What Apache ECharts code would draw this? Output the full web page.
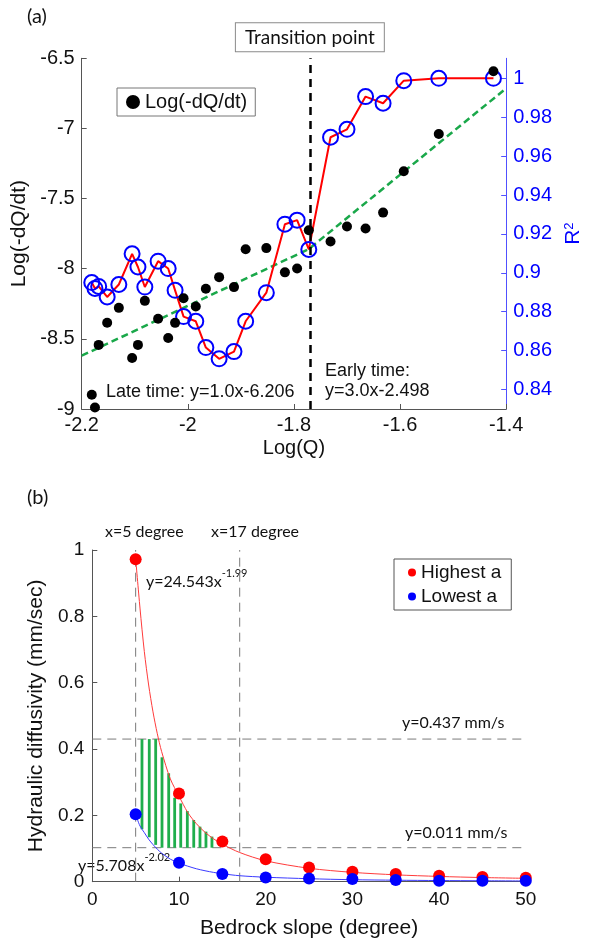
<!DOCTYPE html>
<html>
<head>
<meta charset="utf-8">
<script src="https://cdn.jsdelivr.net/npm/echarts@6/dist/echarts.min.js"></script>
<style>
html,body{margin:0;padding:0;background:#fff;}
#chart{width:592px;height:943px;}
</style>
</head>
<body>
<div id="chart"></div>
<script>
// ---------- Panel (a) data ----------
const logQ = [-2.181, -2.175, -2.168, -2.152, -2.130, -2.105, -2.094, -2.081, -2.056, -2.037, -2.024, -2.008, -1.985, -1.966, -1.941, -1.913, -1.891, -1.852, -1.817, -1.794, -1.772, -1.731, -1.700, -1.665, -1.632, -1.593, -1.527, -1.424];
const logDQdt = [-8.898, -8.989, -8.543, -8.385, -8.279, -8.637, -8.543, -8.229, -8.357, -8.494, -8.386, -8.210, -8.269, -8.143, -8.060, -8.131, -7.861, -7.853, -8.026, -7.998, -7.726, -7.806, -7.699, -7.713, -7.600, -7.305, -7.039, -6.592];
const r2 = [0.895, 0.892, 0.893, 0.8876, 0.894, 0.9098, 0.903, 0.8927, 0.906, 0.9022, 0.891, 0.8775, 0.8751, 0.8616, 0.8558, 0.8595, 0.8751, 0.8898, 0.925, 0.9271, 0.912, 0.9697, 0.9738, 0.9906, 0.9872, 0.9988, 1.0, 1.0];
const fitX = [-2.2, -1.772, -1.4];
const fitY = [-8.62, -7.86, -6.714];
const transitionX = -1.772;
const r2Ticks = [0.84, 0.86, 0.88, 0.9, 0.92, 0.94, 0.96, 0.98, 1.0];

// ---------- Panel (b) data ----------
const slope = [5, 10, 15, 20, 25, 30, 35, 40, 45, 50];
const highestA = [0.972, 0.266, 0.121, 0.068, 0.043, 0.030, 0.023, 0.018, 0.014, 0.012];
const lowestA = [0.203, 0.057, 0.023, 0.013, 0.010, 0.008, 0.005, 0.003, 0.003, 0.003];
const curveX = [5, 5.5, 6, 6.5, 7, 7.5, 8, 9, 10, 11, 12, 13, 14, 15, 17, 20, 25, 30, 35, 40, 45, 50];
const highCurve = [0.975, 0.825, 0.694, 0.593, 0.512, 0.446, 0.392, 0.310, 0.258, 0.209, 0.175, 0.149, 0.129, 0.113, 0.088, 0.063, 0.0405, 0.0282, 0.0207, 0.0159, 0.0125, 0.0102];
const lowCurve = [0.203, 0.168, 0.148, 0.128, 0.112, 0.098, 0.086, 0.068, 0.056, 0.047, 0.039, 0.033, 0.028, 0.024, 0.018, 0.0135, 0.009, 0.006, 0.0045, 0.0035, 0.0029, 0.0022];
const hatchX = [5.73, 6.57, 7.31, 8.04, 8.81, 9.5, 10.2, 10.96, 11.7, 12.42, 13.11, 13.8];
const hatchTop = [0.43, 0.43, 0.43, 0.375, 0.327, 0.253, 0.236, 0.213, 0.186, 0.166, 0.151, 0.136];
const hatchBottom = [0.158, 0.134, 0.111, 0.1025, 0.1025, 0.1025, 0.1025, 0.1025, 0.1025, 0.1025, 0.1025, 0.1025];
const refX = [5, 17];
const refY = [0.43, 0.1025];

const SANS = 'Liberation Sans, Arial, Helvetica, sans-serif';
const CAL = 'Lato, Open Sans, sans-serif';
const AX = '#555';

const chart = echarts.init(document.getElementById('chart'), null, {renderer: 'canvas'});

const zip = (a, b) => a.map((v, i) => [v, b[i]]);

const refSeries = [];
refX.forEach(x => refSeries.push({
  type: 'line', xAxisIndex: 1, yAxisIndex: 2, data: [[x, 0], [x, 1]], symbol: 'none', silent: true, z: 1,
  lineStyle: {color: '#7a7a7a', width: 1, type: [9, 6]}
}));
refY.forEach(y => refSeries.push({
  type: 'line', xAxisIndex: 1, yAxisIndex: 2, data: [[0, y], [50, y]], symbol: 'none', silent: true, z: 1,
  lineStyle: {color: '#7a7a7a', width: 1, type: [9, 6]}
}));

const option = {
  animation: false,
  backgroundColor: '#fff',
  textStyle: {fontFamily: SANS},
  grid: [
    {left: 81.7, top: 58.3, width: 427.5, height: 350.7, containLabel: false},
    {left: 92.3, top: 550, width: 433.5, height: 331.7, containLabel: false}
  ],
  legend: [
    {
      data: ['Log(-dQ/dt)'], left: 117, top: 88, orient: 'horizontal',
      icon: 'circle', itemWidth: 14, itemHeight: 14, itemGap: 6,
      padding: [4, 8, 4, 9], borderColor: '#777', borderWidth: 1, backgroundColor: '#fff',
      textStyle: {fontSize: 20, color: '#111', fontFamily: SANS}
    },
    {
      data: ['Highest a', 'Lowest a'], left: 394, top: 559, orient: 'vertical',
      icon: 'circle', itemWidth: 8, itemHeight: 8, itemGap: 5,
      padding: [4, 10, 4, 14], borderColor: '#555', borderWidth: 1, backgroundColor: '#fff',
      textStyle: {fontSize: 19, color: '#111', fontFamily: SANS}
    }
  ],
  xAxis: [
    {
      type: 'value', gridIndex: 0, min: -2.2, max: -1.4, interval: 0.2,
      name: 'Log(Q)', nameLocation: 'middle', nameGap: 29,
      nameTextStyle: {fontSize: 20, color: '#111', fontFamily: SANS},
      axisLine: {show: true, onZero: false, lineStyle: {color: AX, width: 1}},
      axisTick: {show: true, inside: true, length: 5, lineStyle: {color: AX}},
      axisLabel: {fontSize: 20, color: '#111', margin: 6, fontFamily: SANS},
      splitLine: {show: false}
    },
    {
      type: 'value', gridIndex: 1, min: 0, max: 50, interval: 10,
      name: 'Bedrock slope (degree)', nameLocation: 'middle', nameGap: 36,
      nameTextStyle: {fontSize: 21, color: '#111', fontFamily: SANS},
      axisLine: {show: true, onZero: false, lineStyle: {color: AX, width: 1}},
      axisTick: {show: true, inside: true, length: 5, lineStyle: {color: AX}},
      axisLabel: {fontSize: 19, color: '#111', margin: 9, fontFamily: SANS},
      splitLine: {show: false}
    }
  ],
  yAxis: [
    {
      type: 'value', gridIndex: 0, min: -9, max: -6.5, interval: 0.5,
      name: 'Log(-dQ/dt)', nameLocation: 'middle', nameRotate: 90, nameGap: 43,
      nameTextStyle: {fontSize: 21, color: '#111', fontFamily: SANS},
      axisLine: {show: true, onZero: false, lineStyle: {color: AX, width: 1}},
      axisTick: {show: true, inside: true, length: 5, lineStyle: {color: AX}},
      axisLabel: {fontSize: 20, color: '#111', margin: 7, fontFamily: SANS},
      splitLine: {show: false}
    },
    {
      type: 'value', gridIndex: 0, position: 'right', min: 0.83, max: 1.0103,
      name: '{r|R}{s|2}', nameLocation: 'middle', nameRotate: 90, nameGap: 54,
      nameTextStyle: {color: '#0000ff', fontFamily: SANS, rich: {
        r: {fontSize: 21, color: '#0000ff', fontFamily: SANS},
        s: {fontSize: 13, color: '#0000ff', fontFamily: SANS, verticalAlign: 'top'}
      }},
      axisLine: {show: true, onZero: false, lineStyle: {color: '#5050ff', width: 1}},
      axisTick: {show: true, inside: true, length: 5, customValues: r2Ticks, lineStyle: {color: '#5050ff'}},
      axisLabel: {fontSize: 20, color: '#0000ff', margin: 7, fontFamily: SANS, customValues: r2Ticks,
        formatter: v => String(+(+v).toFixed(2))},
      splitLine: {show: false}
    },
    {
      type: 'value', gridIndex: 1, min: 0, max: 1, interval: 0.2,
      name: 'Hydraulic diffusivity (mm/sec)', nameLocation: 'middle', nameRotate: 90, nameGap: 30,
      nameTextStyle: {fontSize: 21, color: '#111', fontFamily: SANS},
      axisLine: {show: true, onZero: false, lineStyle: {color: AX, width: 1}},
      axisTick: {show: true, inside: true, length: 5, lineStyle: {color: AX}},
      axisLabel: {fontSize: 19, color: '#111', margin: 8, fontFamily: SANS},
      splitLine: {show: false}
    }
  ],
  series: [
    {
      type: 'line', name: 'fit', xAxisIndex: 0, yAxisIndex: 0, data: zip(fitX, fitY), symbol: 'none', z: 3,
      lineStyle: {color: '#1aa84a', width: 2.5, type: [7, 4]},
      markLine: {
        silent: true, symbol: ['none', 'none'], animation: false,
        lineStyle: {color: '#000', width: 2.5, type: [8, 6]},
        label: {
          show: true, position: 'end', formatter: 'Transition point', distance: 7,
          fontFamily: CAL, fontSize: 19, color: '#111', backgroundColor: '#fff',
          borderColor: '#8a8a8a', borderWidth: 1, padding: [5, 9, 4, 9]
        },
        data: [{xAxis: transitionX}]
      }
    },
    {
      type: 'line', name: 'R2', xAxisIndex: 0, yAxisIndex: 1, data: zip(logQ, r2), z: 4,
      symbol: 'circle', symbolSize: 15,
      lineStyle: {color: '#ff0000', width: 2},
      itemStyle: {color: 'rgba(0,0,0,0)', borderColor: '#0000ff', borderWidth: 2}
    },
    {
      type: 'scatter', name: 'Log(-dQ/dt)', xAxisIndex: 0, yAxisIndex: 0, data: zip(logQ, logDQdt), z: 5,
      symbol: 'circle', symbolSize: 10, itemStyle: {color: '#000', opacity: 1}
    },
    ...refSeries,
    {
      type: 'custom', name: 'hatch', xAxisIndex: 1, yAxisIndex: 2, z: 2,
      data: hatchX.map((x, i) => [x, hatchTop[i], hatchBottom[i]]),
      encode: {x: 0, y: [1, 2]},
      renderItem: function (params, api) {
        const x = api.value(0);
        const p1 = api.coord([x, api.value(1)]);
        const p2 = api.coord([x, api.value(2)]);
        const w = 2.8;
        return {type: 'rect', shape: {x: p1[0] - w / 2, y: p1[1], width: w, height: p2[1] - p1[1]},
          style: {fill: '#1fae4c'}};
      }
    },
    {
      type: 'line', name: 'highFit', xAxisIndex: 1, yAxisIndex: 2, data: zip(curveX, highCurve), symbol: 'none', z: 3,
      smooth: 0.3, lineStyle: {color: '#ff3b3b', width: 1}
    },
    {
      type: 'line', name: 'lowFit', xAxisIndex: 1, yAxisIndex: 2, data: zip(curveX, lowCurve), symbol: 'none', z: 3,
      smooth: 0.3, lineStyle: {color: '#3b3bff', width: 1}
    },
    {
      type: 'scatter', name: 'Highest a', xAxisIndex: 1, yAxisIndex: 2, data: zip(slope, highestA), z: 5,
      symbol: 'circle', symbolSize: 12, itemStyle: {color: '#ff0000', opacity: 1}
    },
    {
      type: 'scatter', name: 'Lowest a', xAxisIndex: 1, yAxisIndex: 2, data: zip(slope, lowestA), z: 5,
      symbol: 'circle', symbolSize: 12, itemStyle: {color: '#0000ff', opacity: 1}
    }
  ],
  graphic: [
    {type: 'text', left: 27, top: 7, style: {text: '(a)', fontSize: 20, fontFamily: CAL, fill: '#111'}},
    {type: 'text', left: 27, top: 488, style: {text: '(b)', fontSize: 20, fontFamily: CAL, fill: '#111'}},
    {type: 'text', left: 106, top: 383, style: {text: 'Late time: y=1.0x-6.206', fontSize: 18, fontFamily: SANS, fill: '#111'}},
    {type: 'text', left: 325, top: 362, style: {text: 'Early time:', fontSize: 18, fontFamily: SANS, fill: '#111'}},
    {type: 'text', left: 325, top: 382, style: {text: 'y=3.0x-2.498', fontSize: 18, fontFamily: SANS, fill: '#111'}},
    {type: 'text', left: 105, top: 524, style: {text: 'x=5 degree', fontSize: 16, fontFamily: CAL, fill: '#111'}},
    {type: 'text', left: 211, top: 524, style: {text: 'x=17 degree', fontSize: 16, fontFamily: CAL, fill: '#111'}},
    {type: 'text', left: 146, top: 568, style: {text: '{a|y=24.543x}{s|-1.99}', rich: {
      a: {fontSize: 16, fontFamily: CAL, fill: '#111', color: '#111', padding: [6, 0, 0, 0]},
      s: {fontSize: 11, fontFamily: CAL, fill: '#111', color: '#111', verticalAlign: 'top'}}}},
    {type: 'text', left: 78, top: 852, style: {text: '{a|y=5.708x}{s|-2.02}', rich: {
      a: {fontSize: 16, fontFamily: CAL, fill: '#111', color: '#111', padding: [6, 0, 0, 0]},
      s: {fontSize: 11, fontFamily: CAL, fill: '#111', color: '#111', verticalAlign: 'top'}}}},
    {type: 'text', left: 402, top: 715, style: {text: 'y=0.437 mm/s', fontSize: 16, fontFamily: CAL, fill: '#111'}},
    {type: 'text', left: 405, top: 825, style: {text: 'y=0.011 mm/s', fontSize: 16, fontFamily: CAL, fill: '#111'}}
  ]
};
chart.setOption(option);
</script>
</body>
</html>
